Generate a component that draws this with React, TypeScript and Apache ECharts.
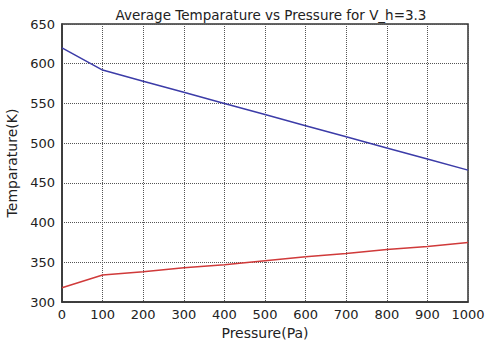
import React, { useEffect, useRef } from "react";
import * as echarts from "echarts";

const pressure = [0, 100, 200, 300, 400, 500, 600, 700, 800, 900, 1000];
const upperTemp = [620, 592, 578, 564, 550, 536, 522, 508, 494, 480, 466];
const lowerTemp = [318, 334, 338, 343, 347, 352, 357, 361, 366, 370, 375];
const titleText = "Average Temparature vs Pressure for V_h=3.3";
const xName = "Pressure(Pa)";
const yName = "Temparature(K)";

export default function App() {
  const ref = useRef<HTMLDivElement>(null);
  useEffect(() => {
    const chart = echarts.init(ref.current!, null, { renderer: "svg" });
    const font = "DejaVu Sans";
    chart.setOption({
      animation: false,
      backgroundColor: "#ffffff",
      title: {
        text: titleText,
        left: 266,
        textAlign: "center",
        top: 3,
        textStyle: { fontFamily: font, fontSize: 13.5, fontWeight: "normal", color: "#222" },
      },
      grid: {
        left: 62,
        right: 21,
        top: 24,
        bottom: 38,
        show: true,
        containLabel: false,
        outerBoundsMode: "none",
        borderColor: "#333",
        borderWidth: 1.5,
        backgroundColor: "transparent",
      },
      xAxis: {
        type: "value",
        min: 0,
        max: 1000,
        interval: 100,
        name: xName,
        nameLocation: "middle",
        nameGap: 23,
        nameTextStyle: { fontFamily: font, fontSize: 14, color: "#222" },
        axisLine: { show: true, lineStyle: { color: "#333", width: 1.5 } },
        axisTick: { show: false },
        axisLabel: {
          fontFamily: font,
          fontSize: 13,
          color: "#222",
          margin: 6,
          formatter: (v: number) => String(v),
        },
        splitLine: { show: true, lineStyle: { type: "dotted", color: "#555", width: 1 } },
      },
      yAxis: {
        type: "value",
        min: 300,
        max: 650,
        interval: 50,
        name: yName,
        nameLocation: "middle",
        nameGap: 34,
        nameTextStyle: { fontFamily: font, fontSize: 14, color: "#222" },
        axisLine: { show: true, lineStyle: { color: "#333", width: 1.5 } },
        axisTick: { show: false },
        axisLabel: {
          fontFamily: font,
          fontSize: 13,
          color: "#222",
          margin: 7,
          formatter: (v: number) => String(v),
        },
        splitLine: { show: true, lineStyle: { type: "dotted", color: "#555", width: 1 } },
      },
      series: [
        {
          type: "line",
          data: pressure.map((p, i) => [p, upperTemp[i]]),
          showSymbol: false,
          lineStyle: { color: "#3c3ca8", width: 1.5 },
          itemStyle: { color: "#3c3ca8" },
        },
        {
          type: "line",
          data: pressure.map((p, i) => [p, lowerTemp[i]]),
          showSymbol: false,
          lineStyle: { color: "#d03a3a", width: 1.5 },
          itemStyle: { color: "#d03a3a" },
        },
      ],
    });
    return () => chart.dispose();
  }, []);
  return (
    <div
      ref={ref}
      style={{ position: "fixed", left: 0, top: 0, width: 489, height: 340 }}
    />
  );
}
